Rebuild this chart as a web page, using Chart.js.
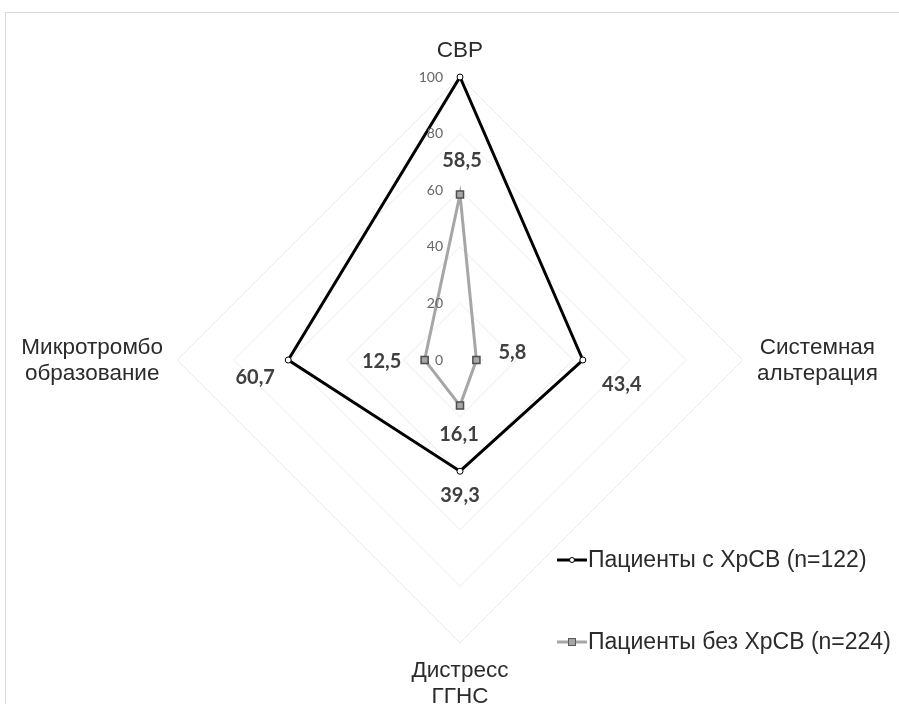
<!DOCTYPE html>
<html>
<head>
<meta charset="utf-8">
<script src="https://cdn.jsdelivr.net/npm/chart.js@4/dist/chart.umd.min.js"></script>
<style>
  html, body { margin: 0; padding: 0; background: #ffffff; }
  #wrap { width: 899px; height: 704px; position: relative; }
</style>
</head>
<body>
<div id="wrap"><canvas id="c" width="899" height="704"></canvas></div>
<script>
// ---- data ----
const categories = [['СВР'], ['Системная', 'альтерация'], ['Дистресс', 'ГГНС'], ['Микротромбо', 'образование']];
const seriesNames = ['Пациенты с ХрСВ (n=122)', 'Пациенты без ХрСВ (n=224)'];
const withHrsv = [100, 43.4, 39.3, 60.7];
const withoutHrsv = [58.5, 5.8, 16.1, 12.5];
const tickValues = [0, 20, 40, 60, 80, 100];

// ---- styling (pixel offsets of the value labels, relative to their point) ----
const labelOffsets = [
  [null, [39, 25], [0, 24], [-33, 18]],
  [[2, -34], [36, -7], [-1, 29], [-43, 2]]
];
const colors = { black: '#000000', gray: '#a6a6a6', grid: '#ebebeb', text: '#2b2b2b', valueText: '#404040', tick: '#666666' };
const catFont = '22.5px "Liberation Sans", Arial, sans-serif';
const legendFont = '23px "Liberation Sans", Arial, sans-serif';

const fmt = v => String(v).replace('.', ',');

const decorPlugin = {
  id: 'decor',
  beforeDraw(chart) {
    const ctx = chart.ctx;
    ctx.save();
    ctx.strokeStyle = '#d9d9d9';
    ctx.lineWidth = 1;
    ctx.strokeRect(5.5, 12.5, 1000, 1000);
    ctx.restore();
  },
  afterDatasetsDraw(chart) {
    const ctx = chart.ctx;
    const s = chart.scales.r;
    ctx.save();
    // tick labels along the first axis, to its left
    ctx.font = '14px Lato';
    ctx.fillStyle = colors.tick;
    ctx.textAlign = 'right';
    ctx.textBaseline = 'middle';
    tickValues.forEach(v => {
      const p = s.getPointPositionForValue(0, v);
      ctx.fillText(String(v), p.x - 17, p.y);
    });
    // category labels
    ctx.font = catFont;
    ctx.fillStyle = colors.text;
    const lh = 26, gap = 14;
    categories.forEach((lines, i) => {
      const p = s.getPointPosition(i, s.drawingArea + gap);
      const w = Math.max(...lines.map(l => ctx.measureText(l).width));
      const h = lines.length * lh;
      let cx = p.x, cy = p.y;
      cx += Math.cos(p.angle) * w / 2;
      cy += Math.sin(p.angle) * h / 2;
      ctx.textAlign = 'center';
      ctx.textBaseline = 'middle';
      lines.forEach((l, k) => ctx.fillText(l, cx, cy - h / 2 + lh * (k + 0.5) + 1));
    });
    // value labels
    ctx.font = 'bold 20px Lato';
    ctx.fillStyle = colors.valueText;
    ctx.textAlign = 'center';
    ctx.textBaseline = 'middle';
    chart.data.datasets.forEach((ds, di) => {
      const meta = chart.getDatasetMeta(di);
      meta.data.forEach((pt, i) => {
        const off = labelOffsets[di][i];
        if (!off) return;
        ctx.fillText(fmt(ds.data[i]), pt.x + off[0], pt.y + off[1]);
      });
    });
    // legend
    const rows = [560, 642];
    chart.data.datasets.forEach((ds, di) => {
      const y = rows[di];
      const x0 = 557, x1 = 587, xm = 572;
      ctx.strokeStyle = ds.borderColor;
      ctx.lineWidth = 3;
      ctx.beginPath(); ctx.moveTo(x0, y); ctx.lineTo(x1, y); ctx.stroke();
      ctx.lineWidth = 1;
      if (di === 0) {
        ctx.fillStyle = '#ffffff';
        ctx.strokeStyle = '#000000';
        ctx.beginPath(); ctx.arc(xm, y, 2.5, 0, Math.PI * 2); ctx.fill(); ctx.stroke();
      } else {
        ctx.fillStyle = '#a6a6a6';
        ctx.strokeStyle = '#595959';
        ctx.fillRect(xm - 3.5, y - 3.5, 7, 7);
        ctx.strokeRect(xm - 3.5, y - 3.5, 7, 7);
      }
      ctx.font = legendFont;
      ctx.fillStyle = colors.text;
      ctx.textAlign = 'left';
      ctx.textBaseline = 'middle';
      ctx.fillText(seriesNames[di], x1 + 1, y + 1);
    });
    ctx.restore();
  }
};

new Chart(document.getElementById('c'), {
  type: 'radar',
  data: {
    labels: categories,
    datasets: [
      {
        label: seriesNames[0],
        data: withHrsv,
        borderColor: colors.black,
        borderWidth: 3,
        fill: false,
        backgroundColor: 'rgba(0,0,0,0)',
        pointStyle: 'circle',
        pointRadius: 3,
        pointBorderWidth: 1,
        pointBorderColor: '#000000',
        pointBackgroundColor: '#ffffff',
        tension: 0
      },
      {
        label: seriesNames[1],
        data: withoutHrsv,
        borderColor: colors.gray,
        borderWidth: 3,
        fill: false,
        backgroundColor: 'rgba(0,0,0,0)',
        pointStyle: 'rect',
        pointRadius: 5,
        pointBorderWidth: 1.5,
        pointBorderColor: '#4d4d4d',
        pointBackgroundColor: '#a6a6a6',
        tension: 0
      }
    ]
  },
  options: {
    responsive: false,
    animation: false,
    devicePixelRatio: 1,
    layout: { padding: { left: 177, right: 156, top: 77, bottom: 61 } },
    plugins: { legend: { display: false }, tooltip: { enabled: false } },
    scales: {
      r: {
        min: 0,
        max: 100,
        ticks: { stepSize: 20, display: false },
        grid: { color: colors.grid, lineWidth: 1 },
        angleLines: { display: false },
        pointLabels: { display: false }
      }
    }
  },
  plugins: [decorPlugin]
});
</script>
</body>
</html>
